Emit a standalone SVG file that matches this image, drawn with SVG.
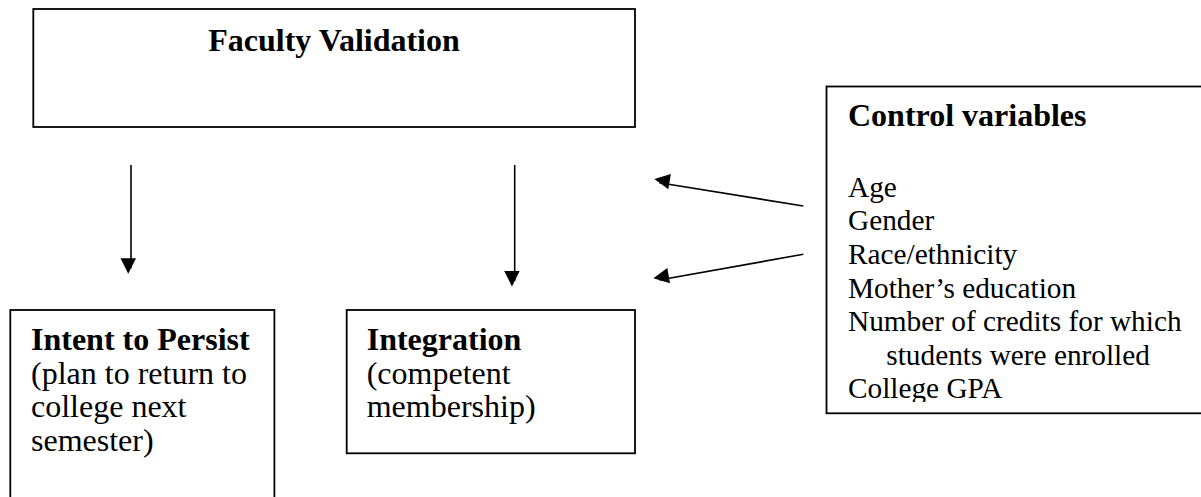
<svg xmlns="http://www.w3.org/2000/svg" width="1201" height="497" viewBox="0 0 1201 497">
<style>
.box{fill:#fff;stroke:#000;stroke-width:1.8}
.t{font-family:"Liberation Serif","Times New Roman",serif;fill:#000}
.b{font-weight:bold;font-size:32px}
.r{font-size:32px}
.s{font-size:29.3px}
.c{stroke:#000;stroke-width:1.6;fill:none;marker-end:url(#ah)}
</style>
<defs>
<marker id="ah" viewBox="0 0 10 10" refX="10" refY="5" markerWidth="10" markerHeight="10" markerUnits="userSpaceOnUse" orient="auto" overflow="visible">
<path d="M0,0 L10,5 L0,10 Z" fill="#000" transform="scale(1.55)" />
</marker>
<clipPath id="cvclip"><rect x="826" y="86" width="380" height="316"/></clipPath>
</defs>
<rect width="1201" height="497" fill="#fff"/>
<g id="faculty-validation">
<rect class="box" x="33.3" y="9" width="601.7" height="118"/>
<text class="t b" x="334" y="50.5" text-anchor="middle">Faculty Validation</text>
</g>
<g id="intent-to-persist">
<rect class="box" x="10.3" y="310" width="264.1" height="200"/>
<text class="t b" x="31" y="350">Intent to Persist</text>
<text class="t r" x="31" y="383.5">(plan to return to</text>
<text class="t r" x="31" y="417">college next</text>
<text class="t r" x="31" y="450.5">semester)</text>
</g>
<g id="integration">
<rect class="box" x="346.7" y="310" width="288.3" height="143.3"/>
<text class="t b" x="366.7" y="350">Integration</text>
<text class="t r" x="366.7" y="383.5">(competent</text>
<text class="t r" x="366.7" y="417">membership)</text>
</g>
<g id="control-variables">
<rect class="box" x="826.5" y="86.5" width="390" height="326.8"/>
<text class="t b" x="848" y="125.8">Control variables</text>
<g clip-path="url(#cvclip)">
<text class="t s" x="848" y="196.8">Age</text>
<text class="t s" x="848" y="230.4">Gender</text>
<text class="t s" x="848" y="264">Race/ethnicity</text>
<text class="t s" x="848" y="297.6">Mother’s education</text>
<text class="t s" x="848" y="331.2">Number of credits for which</text>
<text class="t s" x="886.3" y="364.8">students were enrolled</text>
<text class="t s" x="848" y="398.4">College GPA</text>
</g>
</g>
<g id="connectors">
<line class="c" x1="131" y1="165" x2="131" y2="268.3"/>
<line class="c" x1="514.7" y1="165" x2="514.7" y2="281"/>
<line class="c" x1="803.3" y1="206" x2="659.3" y2="182.7"/>
<line class="c" x1="803.3" y1="254.3" x2="659.3" y2="280"/>
</g>
</svg>
